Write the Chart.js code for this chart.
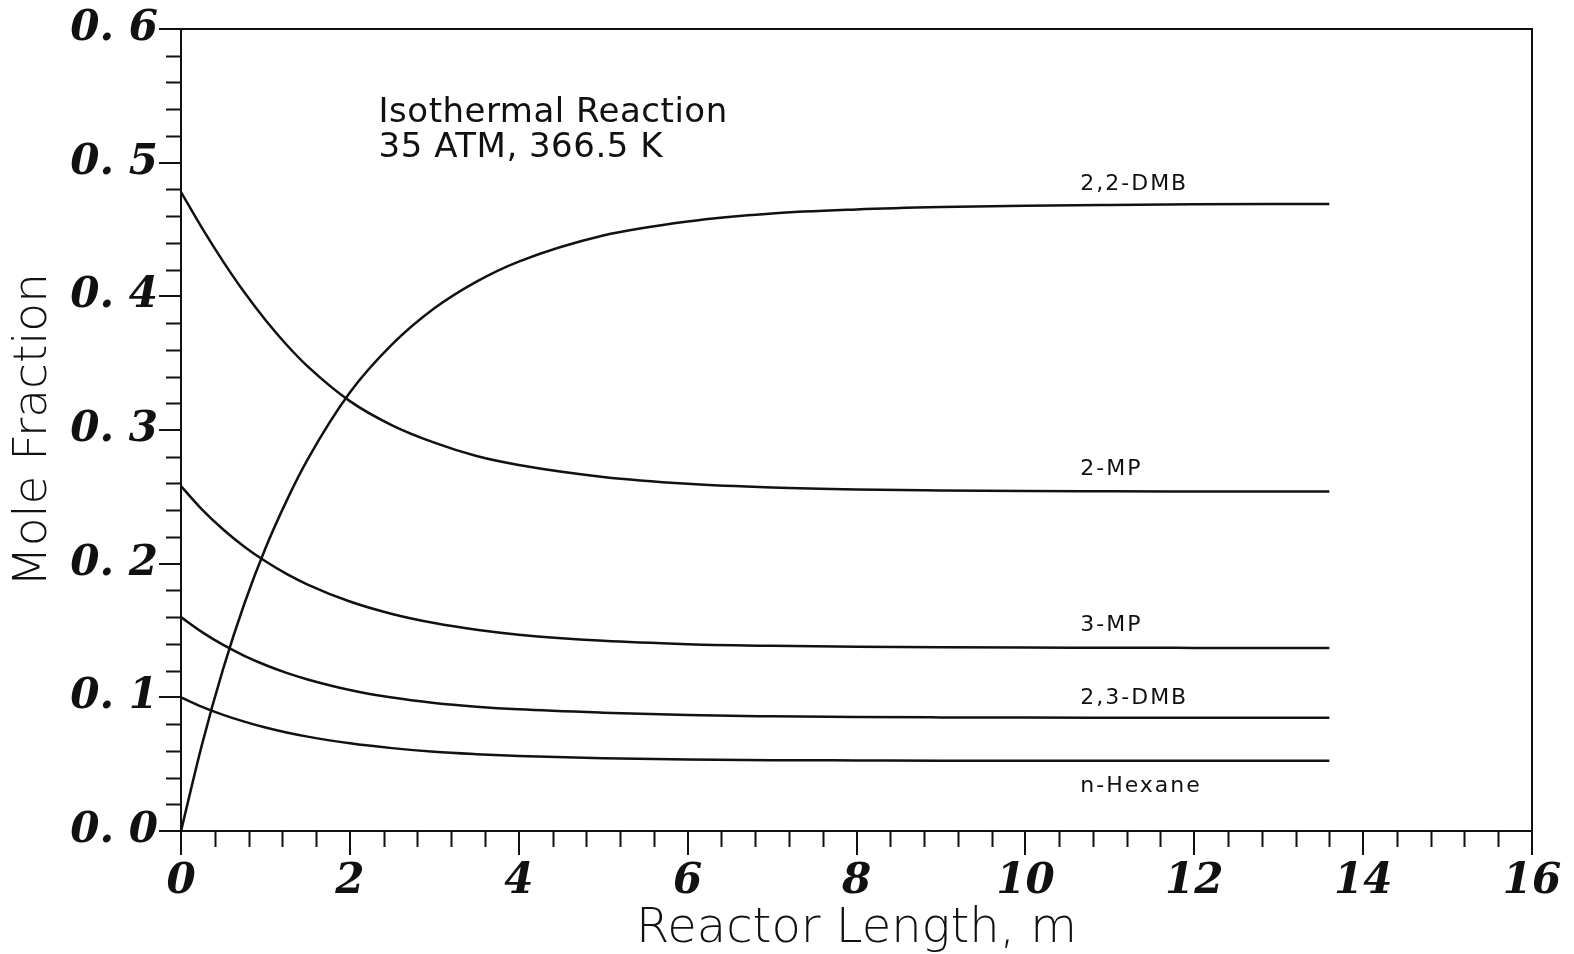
<!DOCTYPE html>
<html>
<head>
<meta charset="utf-8">
<script src="https://cdn.jsdelivr.net/npm/chart.js@4/dist/chart.umd.min.js"></script>
<style>
  html, body { margin: 0; padding: 0; background: #fff; }
  #wrap { width: 1574px; height: 954px; position: relative; }
</style>
</head>
<body>
<div id="wrap"><canvas id="moleChart"></canvas></div>
<script>
// reactor length (m) where the curves were read
const lengths = [0, 0.25, 0.5, 0.75, 1, 1.25, 1.5, 2, 2.5, 3, 3.5, 4, 5, 6, 7, 8, 9, 10, 11, 12, 13, 13.6];

const dmb22  = [0, 0.065, 0.1215, 0.170, 0.2115, 0.247, 0.278, 0.328, 0.364, 0.391, 0.411, 0.426, 0.4455, 0.456, 0.462, 0.465, 0.4668, 0.4678, 0.4684, 0.4688, 0.469, 0.469];
const mp2    = [0.478, 0.451, 0.426, 0.403, 0.3823, 0.3638, 0.3476, 0.3216, 0.3035, 0.2905, 0.2805, 0.2738, 0.2649, 0.2598, 0.257, 0.2555, 0.2548, 0.2543, 0.2541, 0.254, 0.254, 0.254];
const mp3    = [0.258, 0.2405, 0.2256, 0.2127, 0.2018, 0.1924, 0.1844, 0.1717, 0.1624, 0.1556, 0.1506, 0.1469, 0.1423, 0.1398, 0.1385, 0.1378, 0.1374, 0.1372, 0.1371, 0.137, 0.137, 0.137];
const dmb23  = [0.160, 0.1488, 0.1392, 0.1311, 0.1242, 0.1183, 0.1134, 0.1055, 0.0998, 0.0958, 0.093, 0.091, 0.0885, 0.0867, 0.0858, 0.0852, 0.085, 0.0849, 0.0848, 0.0848, 0.0848, 0.0848];
const hexane = [0.100, 0.0929, 0.0869, 0.0818, 0.0774, 0.0737, 0.0706, 0.0656, 0.062, 0.0593, 0.0575, 0.0561, 0.0544, 0.0535, 0.053, 0.0528, 0.0526, 0.0525, 0.0525, 0.0525, 0.0525, 0.0525];

const seriesNames = ["2,2-DMB", "2-MP", "3-MP", "2,3-DMB", "n-Hexane"];
const seriesValues = [dmb22, mp2, mp3, dmb23, hexane];

const xTickValues = [0, 2, 4, 6, 8, 10, 12, 14, 16];
const xTickLabels = ["0", "2", "4", "6", "8", "10", "12", "14", "16"];
const yTickValues = [0, 0.1, 0.2, 0.3, 0.4, 0.5, 0.6];
const yTickLabels = ["0. 0", "0. 1", "0. 2", "0. 3", "0. 4", "0. 5", "0. 6"];

const noteLines = ["Isothermal Reaction", "35 ATM, 366.5 K"];

// label placement: x in data units, y offset in px from the curve end
const labelX = 10.65;
const labelOffsets = [-20, -22, -23, -19, 25];

const INK = "#111";
const tickFont = { family: "'DejaVu Serif', serif", size: 42, style: "italic", weight: "bold" };

const datasets = seriesNames.map((name, i) => ({
    label: name,
    data: lengths.map((x, j) => ({ x: x, y: seriesValues[i][j] })),
    borderColor: INK,
    borderWidth: 2.5,
    pointRadius: 0,
    fill: false,
    cubicInterpolationMode: "monotone"
}));

// minor ticks + frame + text annotations
const extras = {
    id: "extras",
    afterDraw(chart) {
        const { ctx, chartArea: a, scales: { x, y } } = chart;
        ctx.save();
        ctx.strokeStyle = INK;
        ctx.lineWidth = 2;
        ctx.strokeRect(a.left, a.top, a.right - a.left, a.bottom - a.top);

        ctx.beginPath();
        for (let v = 0.4; v < 16; v += 0.4) {
            if (Math.abs(v / 2 - Math.round(v / 2)) < 1e-6) continue;
            const px = Math.round(x.getPixelForValue(v)) + 0.5;
            ctx.moveTo(px, a.bottom);
            ctx.lineTo(px, a.bottom + 16);
        }
        for (let v = 0.02; v < 0.6; v += 0.02) {
            if (Math.abs(v * 10 - Math.round(v * 10)) < 1e-6) continue;
            const py = Math.round(y.getPixelForValue(v)) + 0.5;
            ctx.moveTo(a.left, py);
            ctx.lineTo(a.left - 15, py);
        }
        ctx.stroke();

        ctx.fillStyle = INK;
        ctx.textAlign = "left";
        ctx.textBaseline = "middle";
        ctx.font = "22px 'DejaVu Sans'";
        ctx.letterSpacing = "2px";
        seriesValues.forEach((vals, i) => {
            const px = x.getPixelForValue(labelX);
            const py = y.getPixelForValue(vals[vals.length - 1]) + labelOffsets[i];
            ctx.fillText(seriesNames[i], px, py);
        });

        ctx.letterSpacing = "0.5px";
        ctx.font = "34px 'DejaVu Sans'";
        const nx = x.getPixelForValue(2.34);
        const ny = y.getPixelForValue(0.537);
        noteLines.forEach((t, i) => ctx.fillText(t, nx, ny + i * 35));
        ctx.restore();
    }
};

new Chart(document.getElementById("moleChart").getContext("2d"), {
    type: "line",
    data: { datasets: datasets },
    options: {
        responsive: true,
        maintainAspectRatio: false,
        animation: false,
        layout: { padding: { top: 29, right: 42, left: 0, bottom: 0 } },
        plugins: { legend: { display: false }, tooltip: { enabled: false } },
        scales: {
            x: {
                type: "linear",
                min: 0,
                max: 16,
                afterBuildTicks: s => { s.ticks = xTickValues.map(v => ({ value: v })); },
                afterFit: s => { s.height = 123; },
                ticks: {
                    color: INK,
                    font: tickFont,
                    padding: 2,
                    maxRotation: 0,
                    autoSkip: false,
                    callback: (v, i) => xTickLabels[i]
                },
                grid: { drawOnChartArea: false, color: INK, lineWidth: 2, tickLength: 24 },
                border: { color: INK, width: 2 },
                title: {
                    display: true,
                    text: "Reactor Length, m",
                    color: INK,
                    font: { family: "'DejaVu Sans', sans-serif", size: 48, weight: 200, lineHeight: 0.8 },
                    padding: { top: 0, bottom: 5 }
                }
            },
            y: {
                type: "linear",
                min: 0,
                max: 0.6,
                afterBuildTicks: s => { s.ticks = yTickValues.map(v => ({ value: v })); },
                afterFit: s => { s.width = 181; },
                ticks: {
                    color: INK,
                    font: tickFont,
                    padding: 1,
                    autoSkip: false,
                    callback: (v, i) => yTickLabels[i]
                },
                grid: { drawOnChartArea: false, color: INK, lineWidth: 2, tickLength: 22 },
                border: { color: INK, width: 2 },
                title: {
                    display: true,
                    text: "Mole Fraction",
                    color: INK,
                    font: { family: "'DejaVu Sans', sans-serif", size: 47, weight: 200, lineHeight: 1 },
                    padding: { top: 10, bottom: 0 }
                }
            }
        }
    },
    plugins: [extras]
});
</script>
</body>
</html>
